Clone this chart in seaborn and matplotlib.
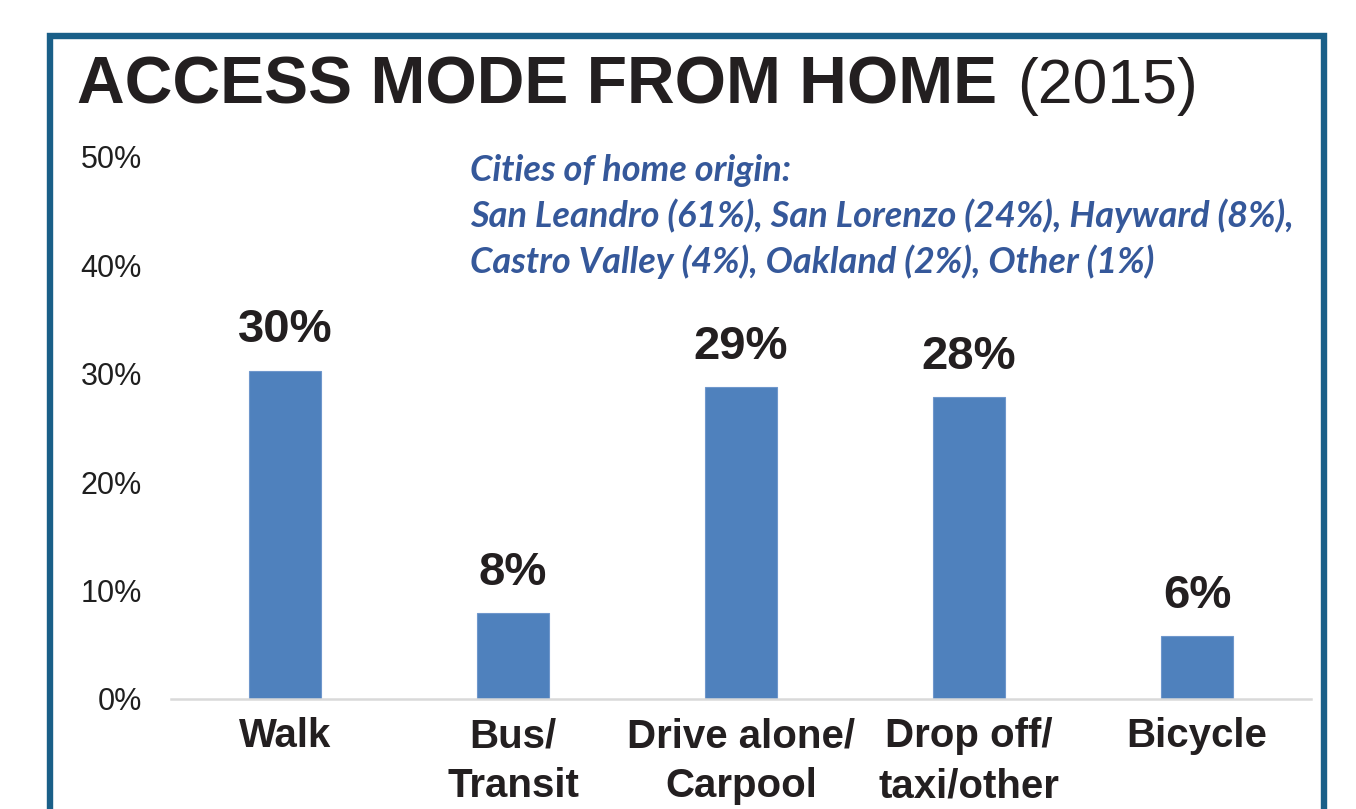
import matplotlib
matplotlib.use("Agg")
import matplotlib.pyplot as plt
from matplotlib.patches import Rectangle
import seaborn as sns
import pandas as pd

categories = ["Walk", "Bus/\nTransit", "Drive alone/\nCarpool", "Drop off/\ntaxi/other", "Bicycle"]
values = [30.3, 7.9, 28.8, 27.9, 5.8]
value_labels = ["30%", "8%", "29%", "28%", "6%"]
yticks = [0, 10, 20, 30, 40, 50]
ytick_labels = ["0%", "10%", "20%", "30%", "40%", "50%"]
title_bold = "ACCESS MODE FROM HOME"
title_regular = "(2015)"
note_lines = [
    "Cities of home origin:",
    "San Leandro (61%), San Lorenzo (24%), Hayward (8%),",
    "Castro Valley (4%), Oakland (2%), Other (1%)",
]

sns.set_theme(style="white")
plt.rcParams["font.family"] = ["Liberation Sans", "DejaVu Sans"]

W, H = 1356, 809
fig = plt.figure(figsize=(W / 100, H / 100), dpi=100)
fig.patch.set_facecolor("white")

ax = fig.add_axes([171 / W, (H - 699) / H, 1140 / W, 542 / H])
df = pd.DataFrame({"mode": categories, "share": values})
sns.barplot(data=df, x="mode", y="share", color="#4F81BD", saturation=1,
            width=0.316, ax=ax, edgecolor="#6f97cc", linewidth=0.8)

ax.set_ylim(0, 50)
ax.set_xlim(-0.5, 4.5)
ax.set_yticks(yticks)
ax.set_yticklabels(ytick_labels)
ax.set_xlabel("")
ax.set_ylabel("")
for s in ["top", "right", "left"]:
    ax.spines[s].set_visible(False)
ax.spines["bottom"].set_color("#d9d9d9")
ax.spines["bottom"].set_linewidth(1.8)
ax.tick_params(axis="y", length=0, pad=21, labelsize=22, labelcolor="#1f1f1f")
ax.tick_params(axis="x", length=0, pad=13, labelsize=29, labelcolor="#231f20")
for t in ax.get_xticklabels():
    t.set_fontweight("bold")
    t.set_linespacing(1.4)

for i, (v, lab) in enumerate(zip(values, value_labels)):
    ax.annotate(lab, xy=(i, v), xytext=(0, 13), textcoords="offset points",
                ha="center", va="bottom", fontsize=34, fontweight="bold",
                color="#231f20")

# Frame
frame = Rectangle((49.5 / W, -0.05), (1323.5 - 49.5) / W, (H - 36 + 0.05 * H) / H,
                  transform=fig.transFigure, fill=False, edgecolor="#1a5f88",
                  linewidth=4.6, clip_on=False)
fig.add_artist(frame)

# Title
t1 = fig.text(77 / W, (H - 103) / H, title_bold, fontsize=47.5, fontweight="bold",
              color="#231f20", va="baseline", ha="left")
fig.canvas.draw()
bb = t1.get_window_extent()
fig.text((bb.x1 + 20) / W, (H - 103) / H, title_regular, fontsize=45,
         color="#231f20", va="baseline", ha="left")

# Note
for k, line in enumerate(note_lines):
    fig.text(470 / W, (H - (181 + 46 * k)) / H, line, fontsize=26,
             family=["Lato", "DejaVu Sans"], fontweight="bold", fontstyle="italic",
             color="#35589a", va="baseline", ha="left")

fig.savefig("out.png", dpi=100, facecolor="white")
